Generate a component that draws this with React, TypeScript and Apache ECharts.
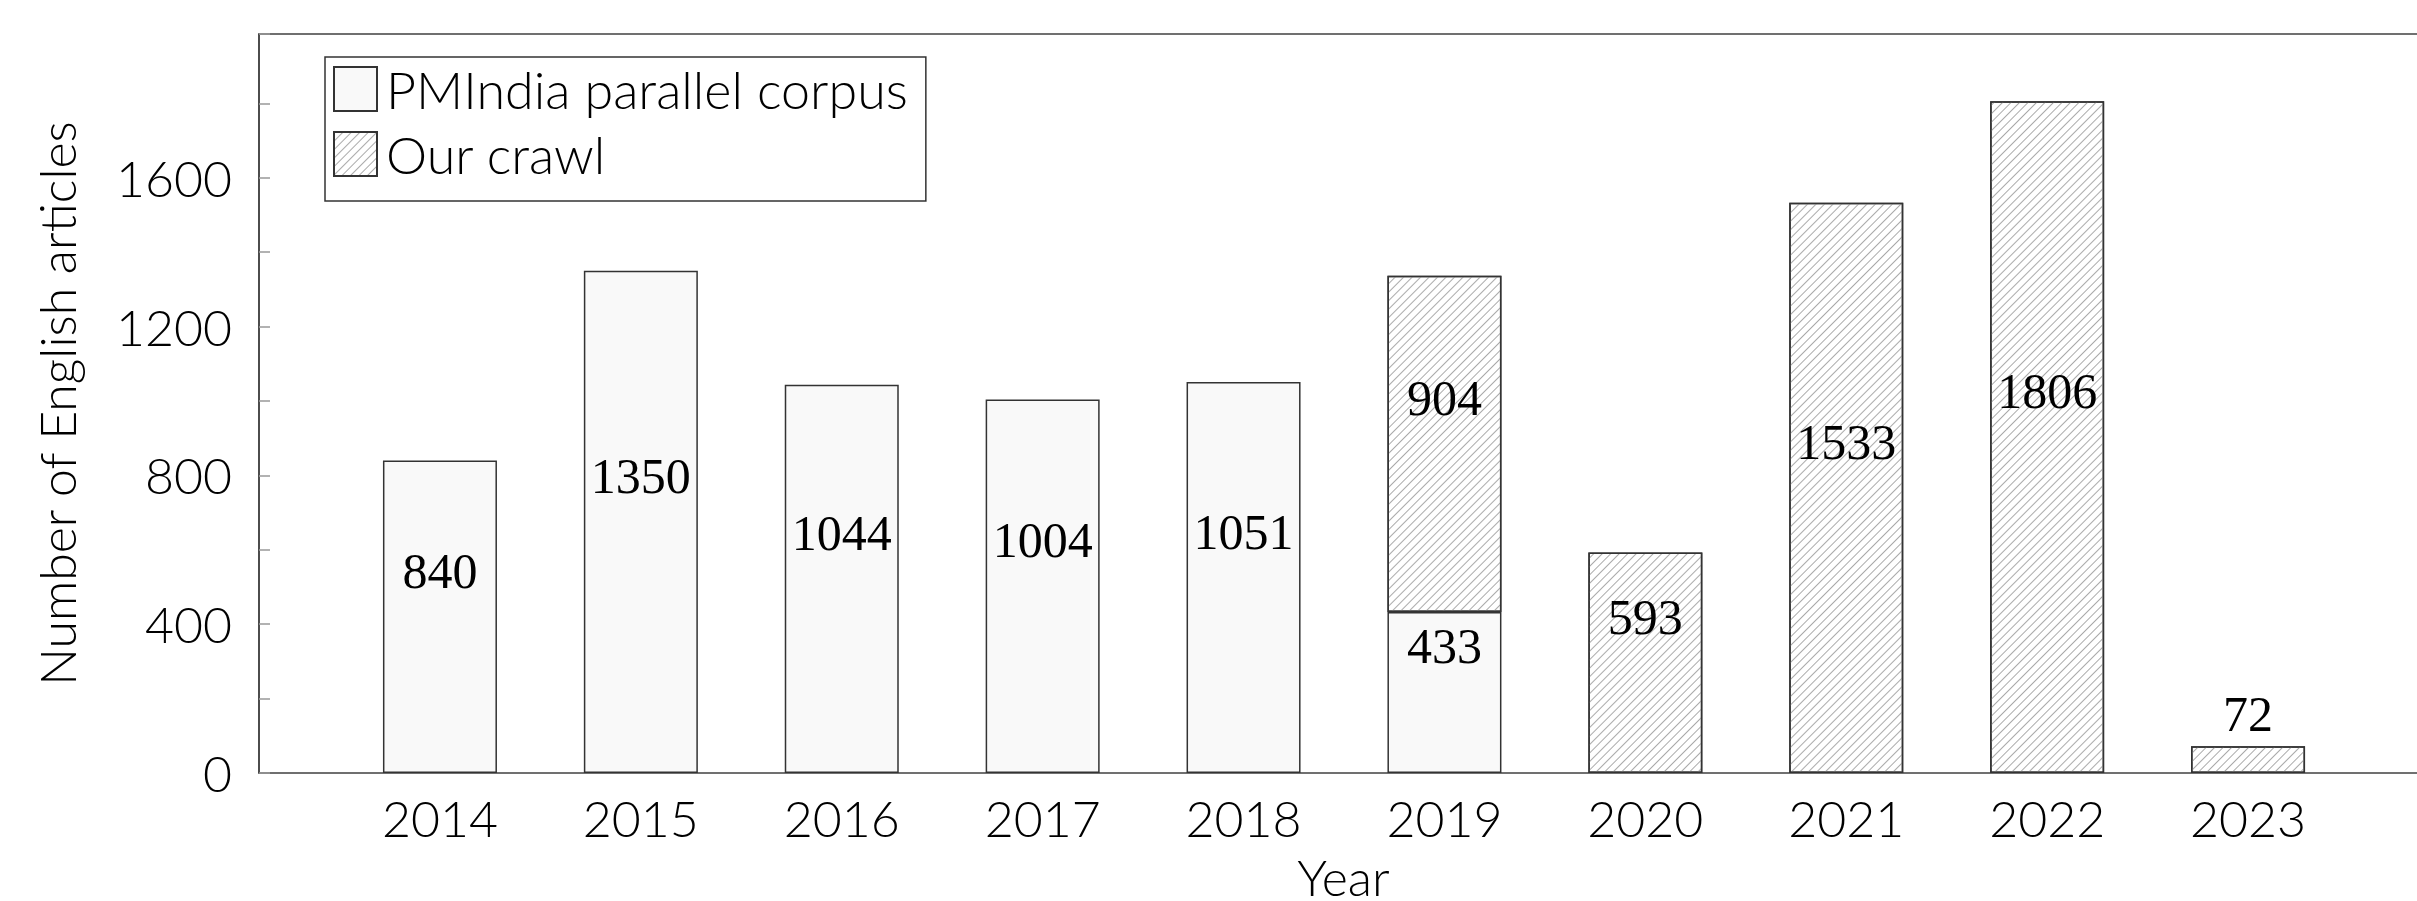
import React, { useEffect, useRef } from "react";
import * as echarts from "echarts";

const years = ["2014", "2015", "2016", "2017", "2018", "2019", "2020", "2021", "2022", "2023"];
const pmindia = [840, 1350, 1044, 1004, 1051, 433, null, null, null, null];
const crawl = [null, null, null, null, null, 904, 593, 1533, 1806, 72];
const yTickStep = 400;
const yMax = 1986.6;

const SANS = "Lato";
const SERIF = "'Liberation Serif', 'DejaVu Serif', serif";

export default function App() {
  const ref = useRef<HTMLDivElement>(null);
  useEffect(() => {
    if (!ref.current) return;
    const chart = echarts.init(ref.current, null, { renderer: "svg" });
    const labelCfg = {
      show: true,
      position: "inside",
      offset: [0, -46],
      color: "#000",
      fontFamily: SERIF,
      fontSize: 50,
      formatter: (p: any) => (p.value == null ? "" : String(p.value)),
    };
    chart.setOption({
      animation: false,
      backgroundColor: "#fff",
      grid: [
        { left: 339.5, right: 68.5, top: 34, bottom: 128, containLabel: false, outerBoundsMode: "none" },
        { left: 259, right: -11, top: 34, bottom: 128, containLabel: false, outerBoundsMode: "none" },
      ],
      legend: {
        left: 325,
        top: 57,
        orient: "vertical",
        itemWidth: 43,
        itemHeight: 44,
        itemGap: 13,
        padding: [6, 18, 21, 8],
        borderColor: "#333",
        borderWidth: 1.5,
        backgroundColor: "#fff",
        icon: "rect",
        textStyle: {
          fontFamily: SANS,
          fontWeight: 300,
          fontSize: 52,
          color: "#000",
          lineHeight: 44,
          padding: [0, 0, 0, 4],
        },
        data: ["PMIndia parallel corpus", "Our crawl"],
      },
      xAxis: [
        {
          type: "category",
          gridIndex: 0,
          data: years,
          boundaryGap: true,
          axisLine: { show: false },
          axisTick: { show: false },
          axisLabel: {
            fontFamily: SANS,
            fontWeight: 300,
            fontSize: 50,
            color: "#000",
            margin: 20,
          },
        },
        {
          type: "value",
          gridIndex: 1,
          min: 0,
          max: 1,
          position: "bottom",
          axisLine: { show: true, lineStyle: { color: "#404040", width: 1.6 } },
          axisTick: { show: false },
          axisLabel: { show: false },
          splitLine: { show: false },
          name: "Year",
          nameLocation: "middle",
          nameGap: 84,
          nameTextStyle: { fontFamily: SANS, fontWeight: 300, fontSize: 50, lineHeight: 40, color: "#000" },
        },
        {
          type: "value",
          gridIndex: 1,
          min: 0,
          max: 1,
          position: "top",
          axisLine: { show: true, lineStyle: { color: "#404040", width: 1.6 } },
          axisTick: { show: false },
          axisLabel: { show: false },
          splitLine: { show: false },
        },
      ],
      yAxis: [
        {
          type: "value",
          gridIndex: 0,
          min: 0,
          max: yMax,
          show: false,
        },
        {
          type: "value",
          gridIndex: 1,
          min: 0,
          max: yMax,
          interval: yTickStep,
          axisLine: { show: true, lineStyle: { color: "#202020", width: 1.6 } },
          axisTick: { show: true, inside: true, length: 11, lineStyle: { color: "#999", width: 1.5 } },
          minorTick: { show: true, splitNumber: 2, length: 11, lineStyle: { color: "#999", width: 1.5 } },
          splitLine: { show: false },
          axisLabel: {
            showMaxLabel: false,
            fontFamily: SANS,
            fontWeight: 300,
            fontSize: 50,
            color: "#000",
            margin: 27,
            formatter: (v: number) => (v % yTickStep === 0 ? String(v) : ""),
          },
          name: "Number of English articles",
          nameLocation: "middle",
          nameRotate: 90,
          nameGap: 177,
          nameTextStyle: { fontFamily: SANS, fontWeight: 300, fontSize: 50, color: "#000" },
        },
      ],
      series: [
        {
          name: "PMIndia parallel corpus",
          type: "bar",
          xAxisIndex: 0,
          yAxisIndex: 0,
          stack: "total",
          barWidth: 114,
          data: pmindia,
          itemStyle: { color: "#f9f9f9", borderColor: "#333", borderWidth: 1.5 },
          label: labelCfg,
        },
        {
          name: "Our crawl",
          type: "bar",
          xAxisIndex: 0,
          yAxisIndex: 0,
          stack: "total",
          barWidth: 114,
          data: crawl,
          itemStyle: {
            color: "#fff",
            borderColor: "#333",
            borderWidth: 1.5,
            decal: {
              symbol: "rect",
              symbolSize: 1,
              dashArrayX: [1, 0],
              dashArrayY: [1, 5],
              rotation: -Math.PI / 4,
              color: "#aaa",
            },
          },
          label: labelCfg,
        },
      ],
    });
    return () => chart.dispose();
  }, []);
  return (
    <div
      ref={ref}
      style={{ position: "fixed", left: 0, top: 0, width: 2417, height: 901, background: "#fff" }}
    />
  );
}
